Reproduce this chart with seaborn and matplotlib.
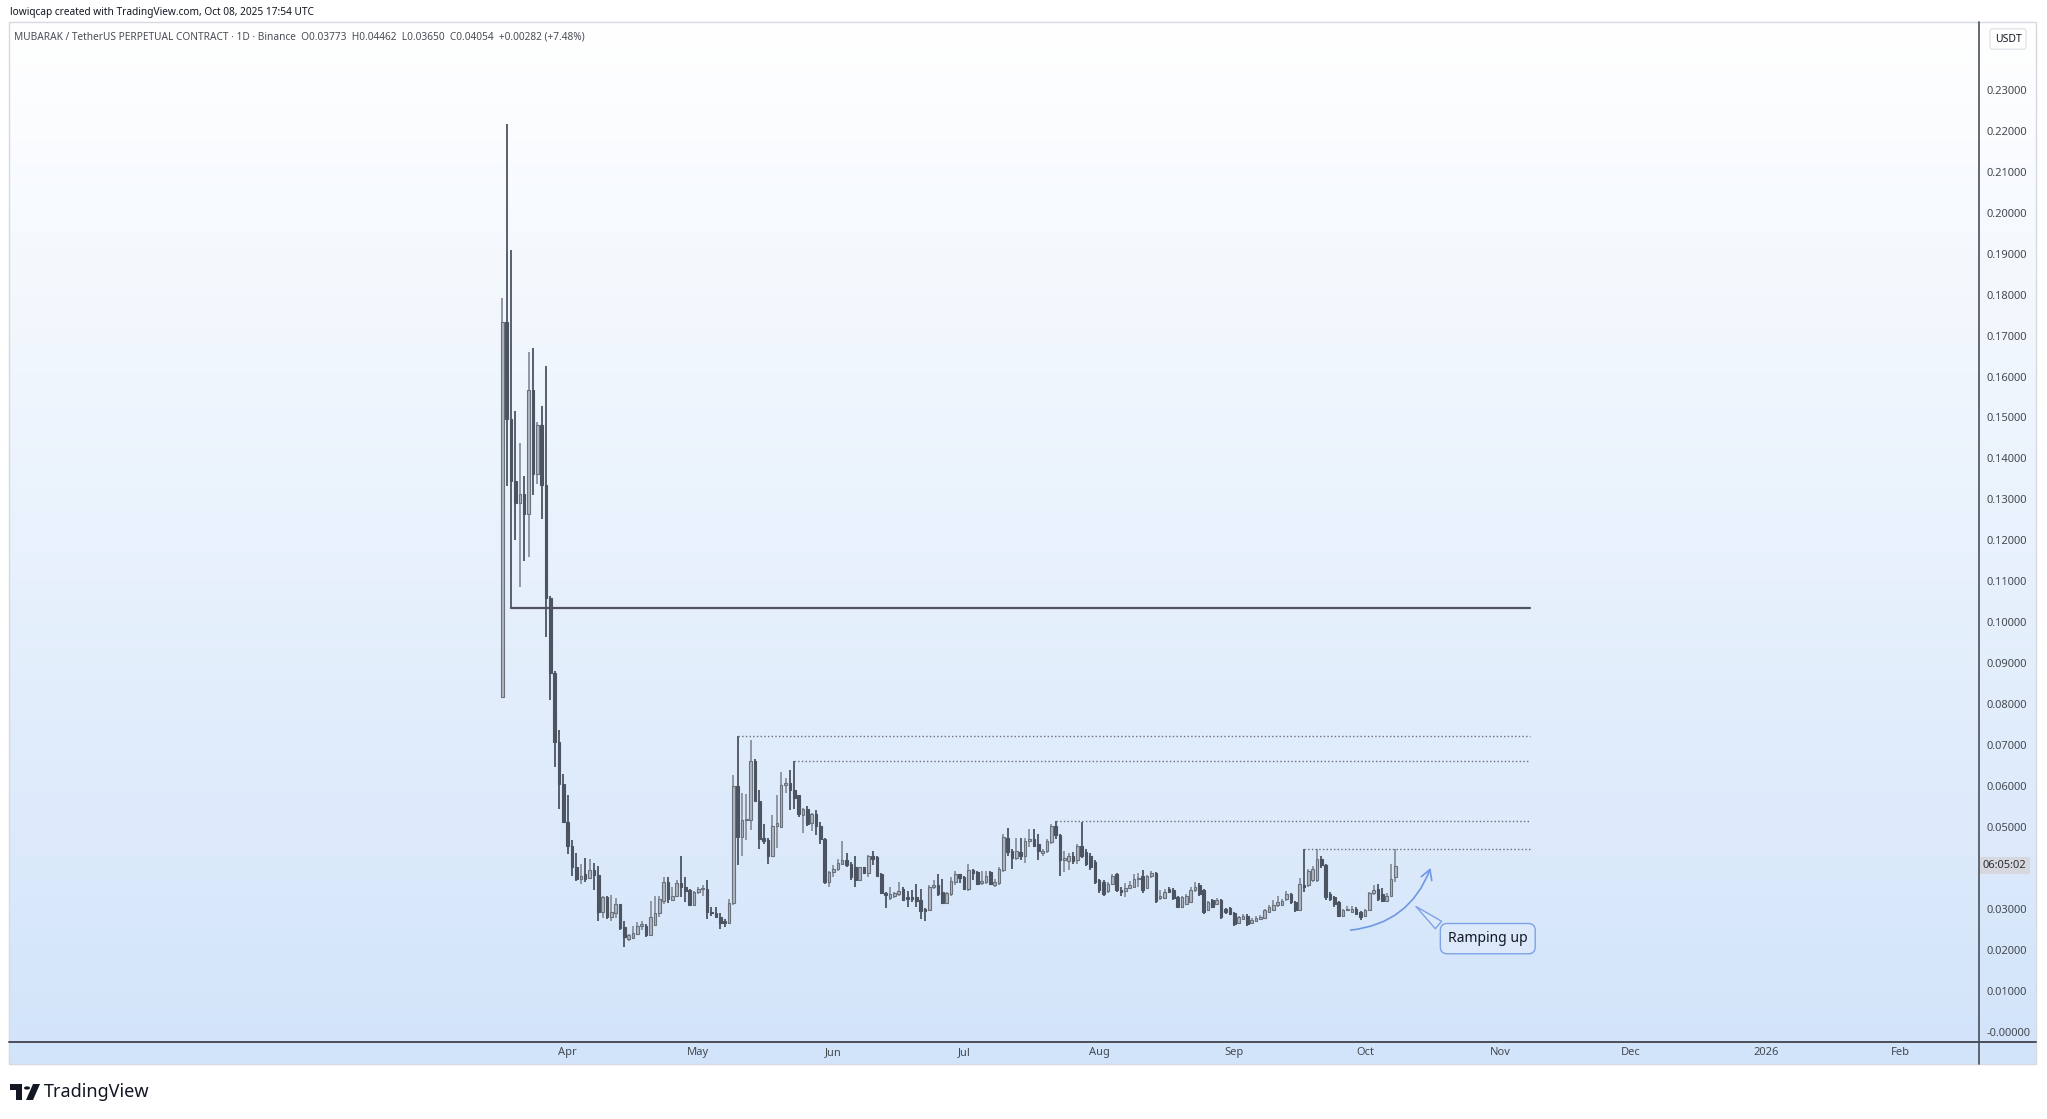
import numpy as np
import pandas as pd
import matplotlib
matplotlib.use("Agg")
import matplotlib.pyplot as plt
from matplotlib.patches import FancyArrowPatch, Rectangle, Circle, Polygon
from matplotlib.lines import Line2D
import seaborn as sns

# daily candles MUBARAK/USDT perp, first one on 2025-03-17
first_day = "2025-03-17"
opens = [
    0.0816, 0.1733, 0.1497, 0.1346, 0.1290, 0.1314, 0.1263, 0.1568, 0.1362, 0.1481, 0.1335, 0.1060,
    0.0877, 0.0707, 0.0605, 0.0512, 0.0454, 0.0402, 0.0373, 0.0384, 0.0375, 0.0395, 0.0383, 0.0292,
    0.0328, 0.0279, 0.0289, 0.0311, 0.0255, 0.0227, 0.0229, 0.0239, 0.0257, 0.0257, 0.0237, 0.0261,
    0.0289, 0.0320, 0.0365, 0.0322, 0.0330, 0.0362, 0.0353, 0.0345, 0.0310, 0.0341, 0.0349, 0.0349,
    0.0293, 0.0290, 0.0281, 0.0271, 0.0265, 0.0314, 0.0599, 0.0475,
    0.0516, 0.0517, 0.0662, 0.0564, 0.0473, 0.0469, 0.0430, 0.0501, 0.0499, 0.0603, 0.0608, 0.0590,
    0.0577, 0.0530, 0.0544, 0.0509, 0.0532, 0.0503, 0.0471, 0.0365, 0.0389, 0.0398, 0.0410, 0.0420,
    0.0410, 0.0403, 0.0371, 0.0402, 0.0387, 0.0430, 0.0426, 0.0385, 0.0338, 0.0327, 0.0330, 0.0336,
    0.0348, 0.0328, 0.0328, 0.0328, 0.0322, 0.0300, 0.0297, 0.0354, 0.0358, 0.0340, 0.0314, 0.0336,
    0.0365, 0.0384, 0.0377, 0.0349, 0.0395, 0.0389, 0.0362, 0.0365, 0.0389, 0.0359, 0.0362, 0.0395,
    0.0473, 0.0442, 0.0424, 0.0438, 0.0430, 0.0465, 0.0471, 0.0457, 0.0436, 0.0440, 0.0463, 0.0501,
    0.0480, 0.0418,
    0.0416, 0.0430, 0.0418, 0.0454, 0.0438, 0.0430, 0.0414, 0.0369, 0.0365, 0.0343, 0.0361, 0.0384,
    0.0346, 0.0343, 0.0351, 0.0354, 0.0373, 0.0381, 0.0351, 0.0379, 0.0387, 0.0327, 0.0327, 0.0349,
    0.0346, 0.0328, 0.0305, 0.0312, 0.0316, 0.0346, 0.0357, 0.0345, 0.0296, 0.0322, 0.0312, 0.0322,
    0.0300, 0.0301, 0.0290, 0.0265, 0.0275, 0.0283, 0.0265, 0.0271, 0.0275, 0.0278, 0.0292, 0.0296,
    0.0308, 0.0310, 0.0324, 0.0335, 0.0316, 0.0296, 0.0359, 0.0357, 0.0369, 0.0369, 0.0422, 0.0406,
    0.0335, 0.0328, 0.0316, 0.0283, 0.0297, 0.0292, 0.0300, 0.0292, 0.0283, 0.0296, 0.0338, 0.0349,
    0.0336, 0.0320, 0.0332, 0.03773,
]
highs = [
    0.1792, 0.2218, 0.1908, 0.1517, 0.1437, 0.1357, 0.1659, 0.1669, 0.1490, 0.1528, 0.1625, 0.1065,
    0.0880, 0.0737, 0.0630, 0.0578, 0.0468, 0.0436, 0.0410, 0.0424, 0.0422, 0.0411, 0.0405, 0.0332,
    0.0332, 0.0334, 0.0326, 0.0312, 0.0271, 0.0239, 0.0257, 0.0267, 0.0271, 0.0262, 0.0320, 0.0332,
    0.0332, 0.0377, 0.0377, 0.0353, 0.0369, 0.0428, 0.0377, 0.0349, 0.0343, 0.0353, 0.0357, 0.0369,
    0.0304, 0.0305, 0.0289, 0.0275, 0.0324, 0.0626, 0.0722, 0.0583,
    0.0581, 0.0713, 0.0666, 0.0589, 0.0506, 0.0473, 0.0528, 0.0577, 0.0634, 0.0620, 0.0638, 0.0660,
    0.0579, 0.0546, 0.0552, 0.0534, 0.0542, 0.0511, 0.0472, 0.0392, 0.0406, 0.0422, 0.0465, 0.0436,
    0.0414, 0.0428, 0.0403, 0.0403, 0.0432, 0.0440, 0.0428, 0.0387, 0.0340, 0.0354, 0.0340, 0.0365,
    0.0353, 0.0344, 0.0346, 0.0361, 0.0349, 0.0302, 0.0357, 0.0370, 0.0384, 0.0373, 0.0340, 0.0377,
    0.0392, 0.0385, 0.0379, 0.0410, 0.0398, 0.0392, 0.0393, 0.0392, 0.0392, 0.0373, 0.0402, 0.0483,
    0.0498, 0.0446, 0.0473, 0.0473, 0.0473, 0.0495, 0.0495, 0.0483, 0.0446, 0.0471, 0.0506, 0.0515,
    0.0483, 0.0442,
    0.0436, 0.0438, 0.0458, 0.0511, 0.0446, 0.0436, 0.0418, 0.0373, 0.0369, 0.0365, 0.0384, 0.0387,
    0.0352, 0.0362, 0.0367, 0.0385, 0.0387, 0.0395, 0.0383, 0.0393, 0.0390, 0.0345, 0.0348, 0.0352,
    0.0350, 0.0330, 0.0330, 0.0336, 0.0352, 0.0365, 0.0362, 0.0348, 0.0320, 0.0324, 0.0326, 0.0324,
    0.0303, 0.0304, 0.0292, 0.0283, 0.0287, 0.0286, 0.0277, 0.0282, 0.0285, 0.0300, 0.0310, 0.0322,
    0.0330, 0.0324, 0.0343, 0.0338, 0.0318, 0.0375, 0.0446, 0.0398, 0.0404, 0.0446, 0.0430, 0.0410,
    0.0340, 0.0332, 0.0318, 0.0300, 0.0306, 0.0306, 0.0305, 0.0294, 0.0300, 0.0340, 0.0357, 0.0360,
    0.0350, 0.0338, 0.0410, 0.04462,
]
lows = [
    0.0815, 0.1333, 0.1035, 0.1201, 0.1085, 0.1149, 0.1159, 0.1310, 0.1338, 0.1253, 0.0963, 0.0811,
    0.0646, 0.0544, 0.0510, 0.0434, 0.0381, 0.0367, 0.0361, 0.0365, 0.0373, 0.0346, 0.0271, 0.0278,
    0.0275, 0.0271, 0.0278, 0.0247, 0.0206, 0.0220, 0.0227, 0.0237, 0.0247, 0.0232, 0.0235, 0.0259,
    0.0280, 0.0312, 0.0314, 0.0320, 0.0328, 0.0328, 0.0316, 0.0306, 0.0308, 0.0336, 0.0332, 0.0275,
    0.0283, 0.0278, 0.0251, 0.0255, 0.0263, 0.0310, 0.0406, 0.0430,
    0.0467, 0.0493, 0.0562, 0.0446, 0.0459, 0.0410, 0.0426, 0.0449, 0.0497, 0.0582, 0.0540, 0.0544,
    0.0524, 0.0485, 0.0501, 0.0491, 0.0479, 0.0457, 0.0361, 0.0353, 0.0377, 0.0393, 0.0406, 0.0402,
    0.0369, 0.0353, 0.0369, 0.0385, 0.0377, 0.0408, 0.0379, 0.0336, 0.0302, 0.0322, 0.0327, 0.0332,
    0.0318, 0.0305, 0.0316, 0.0304, 0.0275, 0.0271, 0.0296, 0.0349, 0.0332, 0.0312, 0.0312, 0.0332,
    0.0359, 0.0362, 0.0346, 0.0343, 0.0369, 0.0357, 0.0357, 0.0361, 0.0357, 0.0353, 0.0359, 0.0389,
    0.0430, 0.0397, 0.0418, 0.0420, 0.0411, 0.0450, 0.0450, 0.0418, 0.0430, 0.0436, 0.0459, 0.0470,
    0.0381, 0.0390,
    0.0395, 0.0410, 0.0410, 0.0424, 0.0404, 0.0395, 0.0361, 0.0338, 0.0330, 0.0338, 0.0357, 0.0340,
    0.0332, 0.0328, 0.0348, 0.0352, 0.0354, 0.0338, 0.0349, 0.0375, 0.0314, 0.0322, 0.0325, 0.0338,
    0.0322, 0.0301, 0.0302, 0.0310, 0.0314, 0.0342, 0.0330, 0.0288, 0.0294, 0.0303, 0.0308, 0.0275,
    0.0288, 0.0284, 0.0258, 0.0263, 0.0273, 0.0258, 0.0262, 0.0268, 0.0272, 0.0276, 0.0290, 0.0294,
    0.0304, 0.0306, 0.0320, 0.0312, 0.0292, 0.0294, 0.0340, 0.0352, 0.0365, 0.0365, 0.0400, 0.0322,
    0.0318, 0.0305, 0.0280, 0.0280, 0.0294, 0.0290, 0.0286, 0.0272, 0.0281, 0.0294, 0.0334, 0.0318,
    0.0318, 0.0318, 0.0330, 0.03650,
]
closes = [
    0.1733, 0.1497, 0.1346, 0.1290, 0.1314, 0.1263, 0.1568, 0.1362, 0.1481, 0.1335, 0.1060, 0.0877,
    0.0707, 0.0605, 0.0512, 0.0454, 0.0402, 0.0373, 0.0381, 0.0373, 0.0395, 0.0383, 0.0292, 0.0328,
    0.0279, 0.0292, 0.0311, 0.0253, 0.0231, 0.0235, 0.0240, 0.0257, 0.0262, 0.0237, 0.0279, 0.0289,
    0.0324, 0.0365, 0.0324, 0.0330, 0.0362, 0.0353, 0.0343, 0.0308, 0.0341, 0.0349, 0.0351, 0.0292,
    0.0289, 0.0281, 0.0265, 0.0266, 0.0314, 0.0599, 0.0475, 0.0516,
    0.0520, 0.0661, 0.0564, 0.0471, 0.0465, 0.0430, 0.0501, 0.0510, 0.0603, 0.0608, 0.0589, 0.0570,
    0.0532, 0.0544, 0.0507, 0.0532, 0.0503, 0.0471, 0.0365, 0.0389, 0.0398, 0.0411, 0.0420, 0.0406,
    0.0377, 0.0371, 0.0402, 0.0387, 0.0428, 0.0422, 0.0381, 0.0338, 0.0334, 0.0335, 0.0338, 0.0344,
    0.0322, 0.0324, 0.0324, 0.0320, 0.0294, 0.0294, 0.0354, 0.0358, 0.0336, 0.0314, 0.0338, 0.0367,
    0.0384, 0.0375, 0.0349, 0.0395, 0.0387, 0.0361, 0.0367, 0.0381, 0.0361, 0.0365, 0.0398, 0.0475,
    0.0438, 0.0424, 0.0440, 0.0430, 0.0465, 0.0471, 0.0454, 0.0440, 0.0442, 0.0465, 0.0501, 0.0480,
    0.0418, 0.0424,
    0.0430, 0.0416, 0.0454, 0.0430, 0.0410, 0.0402, 0.0365, 0.0345, 0.0336, 0.0361, 0.0381, 0.0345,
    0.0341, 0.0351, 0.0357, 0.0373, 0.0375, 0.0345, 0.0381, 0.0387, 0.0320, 0.0332, 0.0341, 0.0341,
    0.0327, 0.0304, 0.0328, 0.0332, 0.0346, 0.0354, 0.0335, 0.0292, 0.0316, 0.0305, 0.0322, 0.0279,
    0.0292, 0.0288, 0.0263, 0.0279, 0.0283, 0.0263, 0.0273, 0.0278, 0.0279, 0.0296, 0.0304, 0.0310,
    0.0316, 0.0320, 0.0335, 0.0316, 0.0297, 0.0361, 0.0354, 0.0393, 0.0398, 0.0422, 0.0406, 0.0328,
    0.0324, 0.0312, 0.0283, 0.0297, 0.0300, 0.0300, 0.0288, 0.0279, 0.0296, 0.0338, 0.0345, 0.0324,
    0.0320, 0.0332, 0.0373, 0.04054,
]

# horizontal levels: candle index where they start, and which extreme they use
level_start = [2, 54, 67, 127, 184]
level_side = ["low", "high", "high", "high", "high"]
level_style = ["-", ":", ":", ":", ":"]
level_end = "2025-11-08"

month_ticks = ["2025-04-01", "2025-05-01", "2025-06-01", "2025-07-01", "2025-08-01", "2025-09-01",
               "2025-10-01", "2025-11-01", "2025-12-01", "2026-01-01", "2026-02-01"]
month_labels = ["Apr", "May", "Jun", "Jul", "Aug", "Sep", "Oct", "Nov", "Dec", "2026", "Feb"]
price_ticks = [round(0.01 * k, 2) for k in range(24)]

sns.set_style("white")
plt.rcParams["font.family"] = ["Noto Sans", "DejaVu Sans"]

W, H = 2047, 1119
fig = plt.figure(figsize=(W / 100, H / 100), dpi=100)
fig.patch.set_facecolor("white")


def fx(px):
    return px / W


def fy(py):
    return 1 - py / H


# gradient background of the chart pane + price scale
bg = fig.add_axes([fx(9), fy(1064), fx(2036) - fx(9), fy(22) - fy(1064)], zorder=0)
t = np.linspace(0, 1, 256)[:, None, None]
top_c = np.array([1.0, 1.0, 1.0])
bot_c = np.array([210, 228, 250]) / 255
bg.imshow(top_c + (bot_c - top_c) * t, aspect="auto", extent=[0, 1, 0, 1])
bg.axis("off")

ax = fig.add_axes([fx(9), fy(1042), fx(1979) - fx(9), fy(22) - fy(1042)], zorder=1)
ax.set_facecolor("none")

df = pd.DataFrame({
    "date": pd.date_range(first_day, periods=len(closes), freq="D"),
    "open": opens, "high": highs, "low": lows, "close": closes,
})
up = df["close"] >= df["open"]
dn = ~up

wick_up, body_up, edge_up = "#8a919c", "#b0b6bf", "#69717d"
body_dn = "#4c5462"

ax.vlines(df["date"][up], df["low"][up], df["high"][up], color=wick_up, lw=1.3, zorder=2)
ax.vlines(df["date"][dn], df["low"][dn], df["high"][dn], color=body_dn, lw=1.3, zorder=2)
ax.bar(df["date"][up], (df["close"] - df["open"])[up], bottom=df["open"][up], width=0.6,
       color=body_up, edgecolor=edge_up, lw=0.8, zorder=3)
ax.bar(df["date"][dn], (df["open"] - df["close"])[dn], bottom=df["close"][dn], width=0.6,
       color=body_dn, edgecolor=body_dn, lw=0.8, zorder=3)

for idx, side, ls in zip(level_start, level_side, level_style):
    price = df[side][idx]
    seg = pd.DataFrame({"date": [df["date"][idx], pd.Timestamp(level_end)], "price": [price, price]})
    sns.lineplot(data=seg, x="date", y="price", ax=ax, color="#50535e" if ls == "-" else "#6b6f78",
                 lw=1.6 if ls == "-" else 1.0, ls=ls, legend=False, zorder=4)

ax.set_xlim(pd.Timestamp("2024-11-23 17:30"), pd.Timestamp("2026-02-18 23:30"))
ax.set_ylim(-0.00255, 0.2466)
ax.set_xlabel("")
ax.set_ylabel("")

ax.set_xticks(pd.to_datetime(month_ticks))
ax.set_xticklabels(month_labels)
ax.yaxis.tick_right()
ax.set_yticks(price_ticks)
ax.set_yticklabels(["-0.00000" if v == 0 else ("" if v == 0.04 else f"{v:.5f}") for v in price_ticks])
ax.tick_params(axis="y", length=0, pad=5.5, labelsize=8, labelcolor="#454950")
ax.tick_params(axis="x", length=0, pad=3.5, labelsize=8, labelcolor="#454950")
for s in ax.spines.values():
    s.set_visible(False)

# countdown label on the price scale
ax.text(1 + 4 / 1970, df["close"].iloc[-1], "06:05:02", transform=ax.get_yaxis_transform(),
        ha="left", va="center", fontsize=8, color="#2a2e39",
        bbox=dict(boxstyle="square,pad=0.28", fc="#d6d8dd", ec="none"))

# "Ramping up" curved arrow + callout
arr = FancyArrowPatch((pd.Timestamp("2025-09-27 02:00"), 0.0247), (pd.Timestamp("2025-10-16 07:00"), 0.0406),
                      connectionstyle="arc3,rad=0.32", arrowstyle="->,head_length=0.7,head_width=0.4",
                      mutation_scale=10, color="#6f97e4", lw=1.2, zorder=5)
ax.add_patch(arr)
ax.annotate("Ramping up", xy=(pd.Timestamp("2025-10-12 05:00"), 0.0310),
            xytext=(pd.Timestamp("2025-10-29 05:00"), 0.0227), ha="center", va="center",
            fontsize=10, color="#131722", zorder=6,
            bbox=dict(boxstyle="round,pad=0.55,rounding_size=0.5", fc="#dbe9fb", ec="#7ea2e6", lw=1),
            arrowprops=dict(arrowstyle="wedge,tail_width=0.7,shrink_factor=0.5", fc="#dbe9fb",
                            ec="#7ea2e6", lw=1, relpos=(0.02, 0.8)))

# pane frame and scale dividers
fig.add_artist(Rectangle((fx(9), fy(1064)), fx(2036) - fx(9), fy(22) - fy(1064), transform=fig.transFigure,
                         fill=False, ec="#d6d9e0", lw=1, zorder=5))
fig.add_artist(Line2D([fx(9), fx(2036)], [fy(1042), fy(1042)], color="#4a4e59", lw=1.4, zorder=6))
fig.add_artist(Line2D([fx(1979), fx(1979)], [fy(22), fy(1064)], color="#4a4e59", lw=1.2, zorder=6))

fig.text(fx(2008), fy(39), "USDT", ha="center", va="center", fontsize=7.5, color="#131722",
         bbox=dict(boxstyle="round,pad=0.45,rounding_size=0.3", fc="white", ec="#e3e5ea", lw=1))

fig.text(fx(10), fy(12), "lowiqcap created with TradingView.com, Oct 08, 2025 17:54 UTC",
         ha="left", va="center", fontsize=7.3, color="#131722")
fig.text(fx(14), fy(37),
         "MUBARAK / TetherUS PERPETUAL CONTRACT · 1D · Binance  O0.03773  H0.04462  L0.03650  C0.04054  +0.00282 (+7.48%)",
         ha="left", va="center", fontsize=7.3, color="#4a4e57")

# TradingView logo
fig.add_artist(Rectangle((fx(10), fy(1090)), fx(22) - fx(10), fy(1084) - fy(1090), transform=fig.transFigure,
                         fc="#131722", ec="none"))
fig.add_artist(Rectangle((fx(16), fy(1100)), fx(22) - fx(16), fy(1090) - fy(1100), transform=fig.transFigure,
                         fc="#131722", ec="none"))
fig.add_artist(Circle((fx(27), fy(1088)), 3 / W, transform=fig.transFigure, fc="#131722", ec="none"))
fig.add_artist(Polygon([(fx(33), fy(1084)), (fx(40), fy(1084)), (fx(33), fy(1100)), (fx(26), fy(1100))],
                       closed=True, transform=fig.transFigure, fc="#131722", ec="none"))
fig.text(fx(44), fy(1092), "TradingView", ha="left", va="center", fontsize=13, fontweight="bold",
         color="#131722")

fig.savefig("out.png", dpi=100)
